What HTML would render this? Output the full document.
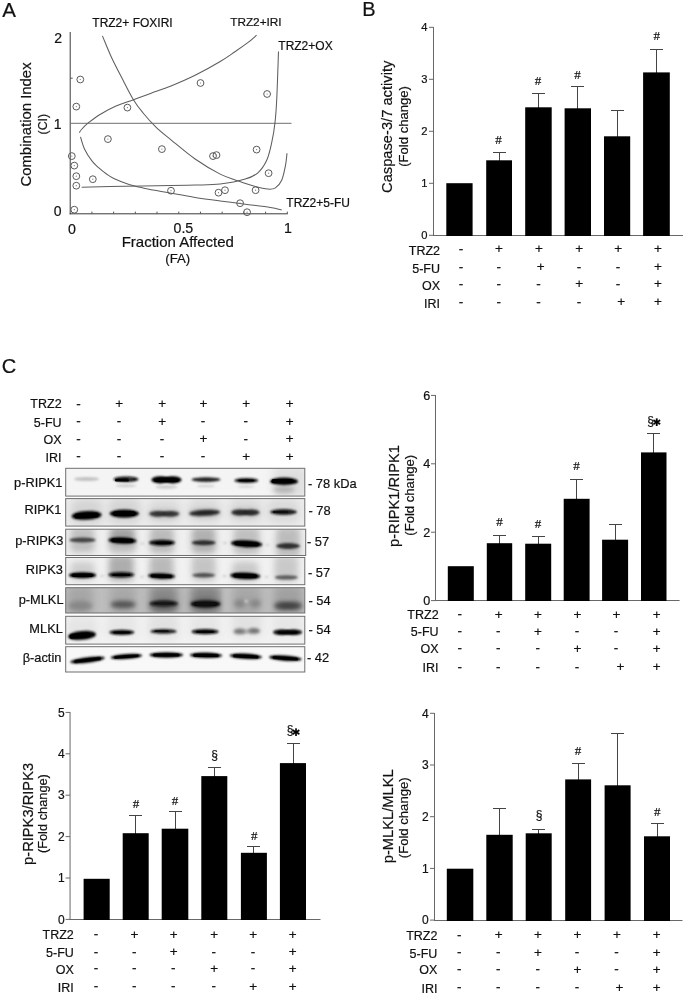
<!DOCTYPE html>
<html lang="en">
<head>
<meta charset="utf-8">
<title>Figure</title>
<style>
html,body{margin:0;padding:0;background:#fff;}
body{width:685px;height:997px;overflow:hidden;}
svg{display:block;}
svg text{font-family:"Liberation Sans",Arial,Helvetica,sans-serif;stroke:#111;stroke-width:.2px;}
svg text.sf{font-family:"Liberation Serif","Times New Roman",serif;}
svg text.dj{font-family:"DejaVu Sans","Liberation Sans",sans-serif;}
</style>
</head>
<body>
<svg width="685" height="997" viewBox="0 0 685 997">
<defs>
<filter id="b1" x="-30%" y="-100%" width="160%" height="300%"><feGaussianBlur stdDeviation="1.3"/></filter>
<filter id="b2" x="-30%" y="-100%" width="160%" height="300%"><feGaussianBlur stdDeviation="2.2"/></filter>
<filter id="b3" x="-30%" y="-100%" width="160%" height="300%"><feGaussianBlur stdDeviation="4"/></filter>
</defs>
<rect width="685" height="997" fill="#fff"/>

<text x="2.20" y="17.00" font-size="20.5" text-anchor="start" fill="#111">A</text>
<text x="362.20" y="16.40" font-size="20" text-anchor="start" fill="#111">B</text>
<text x="1.80" y="372.60" font-size="20" text-anchor="start" fill="#111">C</text>
<line x1="70.20" y1="32.00" x2="70.20" y2="214.30" stroke="#3a3a3a" stroke-width="1"/>
<line x1="69.70" y1="213.80" x2="287.80" y2="213.80" stroke="#3a3a3a" stroke-width="1"/>
<line x1="70.20" y1="123.30" x2="291.50" y2="123.30" stroke="#707070" stroke-width="1"/>
<line x1="91.91" y1="211.60" x2="91.91" y2="213.80" stroke="#555" stroke-width="1"/>
<line x1="113.62" y1="211.60" x2="113.62" y2="213.80" stroke="#555" stroke-width="1"/>
<line x1="135.33" y1="211.60" x2="135.33" y2="213.80" stroke="#555" stroke-width="1"/>
<line x1="157.04" y1="211.60" x2="157.04" y2="213.80" stroke="#555" stroke-width="1"/>
<line x1="178.75" y1="211.60" x2="178.75" y2="213.80" stroke="#555" stroke-width="1"/>
<line x1="200.46" y1="211.60" x2="200.46" y2="213.80" stroke="#555" stroke-width="1"/>
<line x1="222.17" y1="211.60" x2="222.17" y2="213.80" stroke="#555" stroke-width="1"/>
<line x1="243.88" y1="211.60" x2="243.88" y2="213.80" stroke="#555" stroke-width="1"/>
<line x1="265.59" y1="211.60" x2="265.59" y2="213.80" stroke="#555" stroke-width="1"/>
<line x1="287.30" y1="211.60" x2="287.30" y2="213.80" stroke="#555" stroke-width="1"/>
<line x1="70.20" y1="78.20" x2="72.70" y2="78.20" stroke="#555" stroke-width="1"/>
<text x="62.00" y="42.91" font-size="14" text-anchor="end" fill="#111">2</text>
<text x="61.60" y="128.61" font-size="14" text-anchor="end" fill="#111">1</text>
<text x="61.50" y="216.41" font-size="14" text-anchor="end" fill="#111">0</text>
<text x="72.00" y="233.68" font-size="14.2" text-anchor="middle" fill="#111">0</text>
<text x="183.40" y="232.68" font-size="14.2" text-anchor="middle" fill="#111">0.5</text>
<text x="288.00" y="232.88" font-size="14.2" text-anchor="middle" fill="#111">1</text>
<text x="177.80" y="247.17" font-size="15" text-anchor="middle" fill="#111">Fraction Affected</text>
<text x="177.70" y="263.03" font-size="13.2" text-anchor="middle" fill="#111">(FA)</text>
<text x="30.8" y="124.5" font-size="14.9" text-anchor="middle" fill="#111" transform="rotate(-90 30.8 124.5)">Combination Index</text>
<text x="47.2" y="124.2" font-size="12.3" text-anchor="middle" fill="#111" transform="rotate(-90 47.2 124.2)">(CI)</text>
<text x="92.30" y="27.30" font-size="12" text-anchor="start" fill="#111">TRZ2+ FOXIRI</text>
<text x="230.20" y="25.62" font-size="11.8" text-anchor="start" fill="#111">TRZ2+IRI</text>
<text x="278.30" y="49.50" font-size="12" text-anchor="start" fill="#111">TRZ2+OX</text>
<text x="286.30" y="207.30" font-size="12" text-anchor="start" fill="#111">TRZ2+5-FU</text>
<path d="M102.4,35.9 C103.8,39.1 107.5,48.6 110.5,55.2 C113.5,61.8 116.7,68.0 120.5,75.3 C124.3,82.6 129.3,92.9 133.1,99.2 C136.9,105.5 139.3,108.4 143.1,113.0 C146.9,117.6 151.0,122.3 155.7,126.8 C160.3,131.3 164.4,134.4 171.0,139.8 C177.6,145.2 186.9,153.3 195.1,159.0 C203.3,164.7 213.1,170.5 220.2,174.1 C227.3,177.7 231.9,178.7 237.8,180.8 C243.7,182.9 250.4,185.2 255.4,186.6 C260.4,188.0 264.6,188.9 267.9,189.1 C271.2,189.3 273.1,189.4 275.4,187.9 C277.7,186.4 280.0,184.1 281.7,180.3 C283.4,176.5 284.6,169.8 285.5,165.3 C286.4,160.8 286.8,155.2 287.0,153.2" fill="none" stroke="#5e5e5e" stroke-width="1.05"/>
<path d="M79.3,132.6 C79.7,132.1 80.1,131.1 81.5,129.5 C82.9,127.9 84.8,125.8 87.9,123.2 C91.1,120.7 95.8,117.0 100.4,114.2 C105.0,111.4 110.1,108.7 115.5,106.3 C120.9,103.9 127.2,102.1 133.0,99.9 C138.8,97.8 144.3,95.7 150.6,93.4 C156.9,91.1 163.6,89.0 171.0,86.0 C178.4,83.0 186.9,79.4 195.1,75.3 C203.3,71.2 213.5,65.5 220.2,61.5 C226.9,57.5 230.7,54.6 235.3,51.5 C239.9,48.4 244.2,45.4 247.8,42.7 C251.4,40.0 255.1,36.4 256.6,35.1" fill="none" stroke="#5e5e5e" stroke-width="1.05"/>
<path d="M81.7,187.2 C88.9,187.0 110.1,186.6 125.0,186.3 C139.9,186.0 159.3,185.6 171.0,185.4 C182.7,185.2 186.9,185.2 195.1,185.0 C203.3,184.8 211.8,185.1 220.2,184.1 C228.6,183.1 239.0,181.0 245.3,179.1 C251.6,177.2 254.3,175.9 257.9,172.8 C261.5,169.7 264.4,165.3 266.7,160.3 C269.0,155.3 270.3,149.0 271.7,142.7 C273.1,136.4 274.2,129.7 275.0,122.6 C275.8,115.5 276.1,111.8 276.7,100.0 C277.3,88.2 278.2,59.6 278.5,51.5" fill="none" stroke="#5e5e5e" stroke-width="1.05"/>
<path d="M80.5,136.8 C81.2,138.9 82.7,145.2 84.6,149.2 C86.5,153.2 89.5,157.7 91.9,160.9 C94.3,164.1 96.8,166.0 99.2,168.2 C101.6,170.4 104.1,172.3 106.5,174.0 C108.9,175.7 110.1,176.7 113.8,178.4 C117.5,180.1 123.5,182.6 128.4,184.2 C133.3,185.8 138.1,186.8 143.0,187.9 C147.9,189.0 152.9,189.9 157.6,190.8 C162.3,191.7 164.8,192.1 171.0,193.2 C177.2,194.3 186.9,196.1 195.1,197.4 C203.3,198.7 211.8,199.8 220.2,200.9 C228.6,202.0 236.9,203.1 245.3,204.2 C253.7,205.3 264.3,206.5 270.4,207.5 C276.5,208.5 279.8,209.6 281.7,210.0" fill="none" stroke="#5e5e5e" stroke-width="1.05"/>
<circle cx="80.3" cy="79.5" r="3.4" fill="none" stroke="#5a5a5a" stroke-width="1"/>
<circle cx="80.3" cy="79.5" r="0.6" fill="#777"/>
<circle cx="76.3" cy="106.6" r="3.4" fill="none" stroke="#5a5a5a" stroke-width="1"/>
<circle cx="76.3" cy="106.6" r="0.6" fill="#777"/>
<circle cx="127.4" cy="107.6" r="3.4" fill="none" stroke="#5a5a5a" stroke-width="1"/>
<circle cx="127.4" cy="107.6" r="0.6" fill="#777"/>
<circle cx="200.5" cy="83.0" r="3.4" fill="none" stroke="#5a5a5a" stroke-width="1"/>
<circle cx="200.5" cy="83.0" r="0.6" fill="#777"/>
<circle cx="267.1" cy="94.0" r="3.4" fill="none" stroke="#5a5a5a" stroke-width="1"/>
<circle cx="267.1" cy="94.0" r="0.6" fill="#777"/>
<circle cx="107.9" cy="139.1" r="3.4" fill="none" stroke="#5a5a5a" stroke-width="1"/>
<circle cx="107.9" cy="139.1" r="0.6" fill="#777"/>
<circle cx="161.9" cy="149.1" r="3.4" fill="none" stroke="#5a5a5a" stroke-width="1"/>
<circle cx="161.9" cy="149.1" r="0.6" fill="#777"/>
<circle cx="71.8" cy="156.1" r="3.4" fill="none" stroke="#5a5a5a" stroke-width="1"/>
<circle cx="71.8" cy="156.1" r="0.6" fill="#777"/>
<circle cx="74.3" cy="165.6" r="3.4" fill="none" stroke="#5a5a5a" stroke-width="1"/>
<circle cx="74.3" cy="165.6" r="0.6" fill="#777"/>
<circle cx="76.3" cy="176.2" r="3.4" fill="none" stroke="#5a5a5a" stroke-width="1"/>
<circle cx="76.3" cy="176.2" r="0.6" fill="#777"/>
<circle cx="76.3" cy="185.7" r="3.4" fill="none" stroke="#5a5a5a" stroke-width="1"/>
<circle cx="76.3" cy="185.7" r="0.6" fill="#777"/>
<circle cx="92.8" cy="179.2" r="3.4" fill="none" stroke="#5a5a5a" stroke-width="1"/>
<circle cx="92.8" cy="179.2" r="0.6" fill="#777"/>
<circle cx="74.3" cy="209.7" r="3.4" fill="none" stroke="#5a5a5a" stroke-width="1"/>
<circle cx="74.3" cy="209.7" r="0.6" fill="#777"/>
<circle cx="171.0" cy="190.7" r="3.4" fill="none" stroke="#5a5a5a" stroke-width="1"/>
<circle cx="171.0" cy="190.7" r="0.6" fill="#777"/>
<circle cx="213.0" cy="156.1" r="3.4" fill="none" stroke="#5a5a5a" stroke-width="1"/>
<circle cx="213.0" cy="156.1" r="0.6" fill="#777"/>
<circle cx="216.5" cy="155.1" r="3.4" fill="none" stroke="#5a5a5a" stroke-width="1"/>
<circle cx="216.5" cy="155.1" r="0.6" fill="#777"/>
<circle cx="256.6" cy="149.6" r="3.4" fill="none" stroke="#5a5a5a" stroke-width="1"/>
<circle cx="256.6" cy="149.6" r="0.6" fill="#777"/>
<circle cx="268.6" cy="173.2" r="3.4" fill="none" stroke="#5a5a5a" stroke-width="1"/>
<circle cx="268.6" cy="173.2" r="0.6" fill="#777"/>
<circle cx="218.5" cy="192.7" r="3.4" fill="none" stroke="#5a5a5a" stroke-width="1"/>
<circle cx="218.5" cy="192.7" r="0.6" fill="#777"/>
<circle cx="225.0" cy="190.2" r="3.4" fill="none" stroke="#5a5a5a" stroke-width="1"/>
<circle cx="225.0" cy="190.2" r="0.6" fill="#777"/>
<circle cx="255.6" cy="190.2" r="3.4" fill="none" stroke="#5a5a5a" stroke-width="1"/>
<circle cx="255.6" cy="190.2" r="0.6" fill="#777"/>
<circle cx="240.1" cy="203.2" r="3.4" fill="none" stroke="#5a5a5a" stroke-width="1"/>
<circle cx="240.1" cy="203.2" r="0.6" fill="#777"/>
<circle cx="247.1" cy="212.2" r="3.4" fill="none" stroke="#5a5a5a" stroke-width="1"/>
<circle cx="247.1" cy="212.2" r="0.6" fill="#777"/>
<line x1="433.50" y1="27.00" x2="433.50" y2="236.00" stroke="#686868" stroke-width="1"/>
<line x1="433.00" y1="235.50" x2="683.00" y2="235.50" stroke="#686868" stroke-width="1"/>
<line x1="429.00" y1="235.30" x2="433.50" y2="235.30" stroke="#686868" stroke-width="1"/>
<text x="427.60" y="239.31" font-size="11.2" text-anchor="end" fill="#111">0</text>
<line x1="429.00" y1="183.30" x2="433.50" y2="183.30" stroke="#686868" stroke-width="1"/>
<text x="427.60" y="187.31" font-size="11.2" text-anchor="end" fill="#111">1</text>
<line x1="429.00" y1="131.30" x2="433.50" y2="131.30" stroke="#686868" stroke-width="1"/>
<text x="427.60" y="135.31" font-size="11.2" text-anchor="end" fill="#111">2</text>
<line x1="429.00" y1="79.30" x2="433.50" y2="79.30" stroke="#686868" stroke-width="1"/>
<text x="427.60" y="83.31" font-size="11.2" text-anchor="end" fill="#111">3</text>
<line x1="429.00" y1="27.30" x2="433.50" y2="27.30" stroke="#686868" stroke-width="1"/>
<text x="427.60" y="31.31" font-size="11.2" text-anchor="end" fill="#111">4</text>
<rect x="446.30" y="183.20" width="26.30" height="52.80" fill="#000"/>
<line x1="499.50" y1="152.00" x2="499.50" y2="161.30" stroke="#444" stroke-width="1"/>
<line x1="493.00" y1="152.50" x2="506.00" y2="152.50" stroke="#444" stroke-width="1"/>
<rect x="486.20" y="160.30" width="25.80" height="75.70" fill="#000"/>
<text x="498.60" y="144.05" font-size="13" text-anchor="middle" fill="#111" class="sf" stroke="#111" stroke-width="0.25">#</text>
<line x1="538.50" y1="93.00" x2="538.50" y2="108.30" stroke="#444" stroke-width="1"/>
<line x1="532.00" y1="93.50" x2="545.00" y2="93.50" stroke="#444" stroke-width="1"/>
<rect x="525.20" y="107.30" width="26.50" height="128.70" fill="#000"/>
<text x="538.00" y="85.15" font-size="13" text-anchor="middle" fill="#111" class="sf" stroke="#111" stroke-width="0.25">#</text>
<line x1="577.50" y1="86.00" x2="577.50" y2="109.30" stroke="#444" stroke-width="1"/>
<line x1="571.00" y1="86.50" x2="584.00" y2="86.50" stroke="#444" stroke-width="1"/>
<rect x="564.60" y="108.30" width="26.40" height="127.70" fill="#000"/>
<text x="577.40" y="78.65" font-size="13" text-anchor="middle" fill="#111" class="sf" stroke="#111" stroke-width="0.25">#</text>
<line x1="617.50" y1="110.00" x2="617.50" y2="137.30" stroke="#444" stroke-width="1"/>
<line x1="611.00" y1="110.50" x2="624.00" y2="110.50" stroke="#444" stroke-width="1"/>
<rect x="604.00" y="136.30" width="26.20" height="99.70" fill="#000"/>
<line x1="656.50" y1="49.00" x2="656.50" y2="73.40" stroke="#444" stroke-width="1"/>
<line x1="650.00" y1="49.50" x2="663.00" y2="49.50" stroke="#444" stroke-width="1"/>
<rect x="643.10" y="72.40" width="26.70" height="163.60" fill="#000"/>
<text x="656.80" y="40.15" font-size="13" text-anchor="middle" fill="#111" class="sf" stroke="#111" stroke-width="0.25">#</text>
<text x="391.80" y="126.80" font-size="14.7" text-anchor="middle" fill="#111" transform="rotate(-90 391.80 126.80)">Caspase-3/7 activity</text>
<text x="407.80" y="126.40" font-size="13.1" text-anchor="middle" fill="#111" transform="rotate(-90 407.80 126.40)">(Fold change)</text>
<text x="440.00" y="254.97" font-size="12.5" text-anchor="end" fill="#111">TRZ2</text>
<text x="461.00" y="252.80" font-size="13.5" text-anchor="middle" fill="#111">-</text>
<text x="499.00" y="253.30" font-size="13.5" text-anchor="middle" fill="#111">+</text>
<text x="538.90" y="253.30" font-size="13.5" text-anchor="middle" fill="#111">+</text>
<text x="579.30" y="253.30" font-size="13.5" text-anchor="middle" fill="#111">+</text>
<text x="618.30" y="253.30" font-size="13.5" text-anchor="middle" fill="#111">+</text>
<text x="658.00" y="253.30" font-size="13.5" text-anchor="middle" fill="#111">+</text>
<text x="440.00" y="273.08" font-size="12.5" text-anchor="end" fill="#111">5-FU</text>
<text x="461.00" y="270.90" font-size="13.5" text-anchor="middle" fill="#111">-</text>
<text x="498.70" y="270.90" font-size="13.5" text-anchor="middle" fill="#111">-</text>
<text x="540.60" y="271.40" font-size="13.5" text-anchor="middle" fill="#111">+</text>
<text x="579.00" y="270.90" font-size="13.5" text-anchor="middle" fill="#111">-</text>
<text x="618.00" y="270.90" font-size="13.5" text-anchor="middle" fill="#111">-</text>
<text x="658.00" y="271.40" font-size="13.5" text-anchor="middle" fill="#111">+</text>
<text x="440.00" y="289.78" font-size="12.5" text-anchor="end" fill="#111">OX</text>
<text x="461.00" y="287.60" font-size="13.5" text-anchor="middle" fill="#111">-</text>
<text x="498.70" y="287.60" font-size="13.5" text-anchor="middle" fill="#111">-</text>
<text x="538.60" y="287.60" font-size="13.5" text-anchor="middle" fill="#111">-</text>
<text x="579.30" y="288.10" font-size="13.5" text-anchor="middle" fill="#111">+</text>
<text x="618.00" y="287.60" font-size="13.5" text-anchor="middle" fill="#111">-</text>
<text x="658.00" y="288.10" font-size="13.5" text-anchor="middle" fill="#111">+</text>
<text x="440.00" y="307.68" font-size="12.5" text-anchor="end" fill="#111">IRI</text>
<text x="461.00" y="305.70" font-size="13.5" text-anchor="middle" fill="#111">-</text>
<text x="498.70" y="305.70" font-size="13.5" text-anchor="middle" fill="#111">-</text>
<text x="538.60" y="305.70" font-size="13.5" text-anchor="middle" fill="#111">-</text>
<text x="579.00" y="305.70" font-size="13.5" text-anchor="middle" fill="#111">-</text>
<text x="621.30" y="306.20" font-size="13.5" text-anchor="middle" fill="#111">+</text>
<text x="658.00" y="306.20" font-size="13.5" text-anchor="middle" fill="#111">+</text>
<text x="61.60" y="408.48" font-size="12.5" text-anchor="end" fill="#111">TRZ2</text>
<text x="78.60" y="407.70" font-size="13.5" text-anchor="middle" fill="#111">-</text>
<text x="119.30" y="408.20" font-size="13.5" text-anchor="middle" fill="#111">+</text>
<text x="162.30" y="408.20" font-size="13.5" text-anchor="middle" fill="#111">+</text>
<text x="203.40" y="408.20" font-size="13.5" text-anchor="middle" fill="#111">+</text>
<text x="246.10" y="408.20" font-size="13.5" text-anchor="middle" fill="#111">+</text>
<text x="289.80" y="408.20" font-size="13.5" text-anchor="middle" fill="#111">+</text>
<text x="61.60" y="426.78" font-size="12.5" text-anchor="end" fill="#111">5-FU</text>
<text x="78.60" y="425.20" font-size="13.5" text-anchor="middle" fill="#111">-</text>
<text x="119.00" y="425.20" font-size="13.5" text-anchor="middle" fill="#111">-</text>
<text x="162.30" y="425.70" font-size="13.5" text-anchor="middle" fill="#111">+</text>
<text x="203.10" y="425.20" font-size="13.5" text-anchor="middle" fill="#111">-</text>
<text x="245.80" y="425.20" font-size="13.5" text-anchor="middle" fill="#111">-</text>
<text x="289.80" y="425.70" font-size="13.5" text-anchor="middle" fill="#111">+</text>
<text x="61.60" y="443.78" font-size="12.5" text-anchor="end" fill="#111">OX</text>
<text x="78.60" y="442.60" font-size="13.5" text-anchor="middle" fill="#111">-</text>
<text x="119.00" y="442.60" font-size="13.5" text-anchor="middle" fill="#111">-</text>
<text x="162.00" y="442.60" font-size="13.5" text-anchor="middle" fill="#111">-</text>
<text x="203.40" y="443.10" font-size="13.5" text-anchor="middle" fill="#111">+</text>
<text x="245.80" y="442.60" font-size="13.5" text-anchor="middle" fill="#111">-</text>
<text x="289.80" y="443.10" font-size="13.5" text-anchor="middle" fill="#111">+</text>
<text x="61.60" y="461.68" font-size="12.5" text-anchor="end" fill="#111">IRI</text>
<text x="78.60" y="460.20" font-size="13.5" text-anchor="middle" fill="#111">-</text>
<text x="119.00" y="460.20" font-size="13.5" text-anchor="middle" fill="#111">-</text>
<text x="162.00" y="460.20" font-size="13.5" text-anchor="middle" fill="#111">-</text>
<text x="203.10" y="460.20" font-size="13.5" text-anchor="middle" fill="#111">-</text>
<text x="246.10" y="460.70" font-size="13.5" text-anchor="middle" fill="#111">+</text>
<text x="289.80" y="460.70" font-size="13.5" text-anchor="middle" fill="#111">+</text>
<defs>
<clipPath id="cp0"><rect x="65.7" y="468.3" width="239.1" height="27.8"/></clipPath>
<clipPath id="cp1"><rect x="65.7" y="498.6" width="239.1" height="27.5"/></clipPath>
<clipPath id="cp2"><rect x="65.7" y="529.2" width="240.0" height="26.3"/></clipPath>
<clipPath id="cp3"><rect x="65.7" y="557.5" width="239.1" height="27.2"/></clipPath>
<clipPath id="cp4"><rect x="65.7" y="587.7" width="239.1" height="25.3"/></clipPath>
<clipPath id="cp5"><rect x="65.7" y="616.3" width="239.1" height="27.8"/></clipPath>
<clipPath id="cp6"><rect x="65.7" y="646.7" width="239.1" height="25.3"/></clipPath>
<filter id="b25" x="-40%" y="-40%" width="180%" height="180%"><feGaussianBlur stdDeviation="3"/></filter>
<filter id="b15" x="-40%" y="-100%" width="180%" height="300%"><feGaussianBlur stdDeviation="1.7"/></filter>
<filter id="b0" x="-30%" y="-100%" width="160%" height="300%"><feGaussianBlur stdDeviation="0.7"/></filter>
</defs>
<rect x="65.7" y="468.3" width="239.1" height="27.8" fill="#f4f4f4"/>
<g clip-path="url(#cp0)">
<rect x="273.0" y="466.0" width="34.0" height="32.0" rx="6.0" fill="#dcdcdc" opacity="0.9" filter="url(#b3)"/>
<ellipse cx="86.6" cy="479.0" rx="12.5" ry="2.1" fill="#9a9a9a" opacity="0.55" filter="url(#b1)"/>
<ellipse cx="126.0" cy="479.2" rx="12.5" ry="2.8" fill="#111" filter="url(#b1)"/>
<rect x="115.0" y="479.0" width="14.0" height="2.4" rx="1.2" fill="#000" filter="url(#b0)"/>
<ellipse cx="130.5" cy="478.6" rx="2.5" ry="1.0" fill="#777" opacity="0.7" filter="url(#b1)"/>
<ellipse cx="126.0" cy="485.8" rx="10.5" ry="1.5" fill="#aaa" opacity="0.55" filter="url(#b1)"/>
<ellipse cx="160.1" cy="479.8" rx="8.7" ry="3.6" fill="#000" filter="url(#b1)"/>
<ellipse cx="172.9" cy="479.8" rx="8.7" ry="3.6" fill="#000" filter="url(#b1)"/>
<ellipse cx="166.5" cy="479.8" rx="10.1" ry="2.2" fill="#000" filter="url(#b1)"/>
<rect x="154.5" y="478.8" width="24.0" height="3.2" rx="1.6" fill="#000" filter="url(#b0)"/>
<ellipse cx="166.5" cy="487.0" rx="11.0" ry="1.7" fill="#aaa" opacity="0.55" filter="url(#b1)"/>
<ellipse cx="206.0" cy="479.6" rx="14.5" ry="2.4" fill="#222" filter="url(#b1)"/>
<ellipse cx="206.0" cy="486.0" rx="9.0" ry="1.3" fill="#b0b0b0" opacity="0.5" filter="url(#b1)"/>
<ellipse cx="246.3" cy="480.5" rx="12.0" ry="2.6" fill="#151515" filter="url(#b1)"/>
<rect x="238.3" y="479.4" width="16.0" height="2.2" rx="1.1" fill="#000" filter="url(#b0)"/>
<ellipse cx="246.0" cy="486.6" rx="9.0" ry="1.3" fill="#b8b8b8" opacity="0.5" filter="url(#b1)"/>
<ellipse cx="284.0" cy="481.4" rx="14.0" ry="3.8" fill="#000" filter="url(#b1)"/>
<rect x="271.5" y="479.1" width="22.0" height="4.2" rx="2.1" fill="#000" filter="url(#b0)"/>
<ellipse cx="284.0" cy="489.5" rx="11.0" ry="3.5" fill="#909090" opacity="0.55" filter="url(#b2)"/>
</g>
<rect x="65.7" y="468.3" width="239.1" height="27.8" fill="none" stroke="#6e6e6e" stroke-width="1"/>
<rect x="65.7" y="498.6" width="239.1" height="27.5" fill="#eeeeee"/>
<g clip-path="url(#cp1)">
<rect x="70.6" y="499.0" width="32.0" height="26.0" rx="6.0" fill="#c9c9c9" opacity="0.7" filter="url(#b3)"/>
<rect x="108.3" y="498.0" width="32.0" height="26.0" rx="6.0" fill="#c9c9c9" opacity="0.7" filter="url(#b3)"/>
<rect x="148.2" y="500.0" width="32.0" height="24.0" rx="6.0" fill="#d0d0d0" opacity="0.7" filter="url(#b3)"/>
<rect x="188.6" y="499.0" width="32.0" height="24.0" rx="6.0" fill="#d0d0d0" opacity="0.7" filter="url(#b3)"/>
<rect x="229.4" y="499.0" width="32.0" height="24.0" rx="6.0" fill="#d0d0d0" opacity="0.7" filter="url(#b3)"/>
<rect x="267.5" y="499.0" width="32.0" height="24.0" rx="6.0" fill="#d0d0d0" opacity="0.7" filter="url(#b3)"/>
<ellipse cx="86.6" cy="515.4" rx="15.0" ry="4.4" fill="#000" filter="url(#b1)" transform="rotate(-3 86.6 515.4)"/>
<rect x="74.6" y="512.9" width="24.0" height="5.2" rx="2.6" fill="#000" filter="url(#b0)" transform="rotate(-3 86.6 515.5)"/>
<ellipse cx="124.3" cy="513.6" rx="14.7" ry="4.1" fill="#000" filter="url(#b1)"/>
<rect x="112.8" y="511.2" width="23.0" height="4.7" rx="2.4" fill="#000" filter="url(#b0)"/>
<ellipse cx="157.8" cy="513.8" rx="8.7" ry="2.9" fill="#333" opacity="0.9" filter="url(#b1)"/>
<ellipse cx="170.6" cy="513.8" rx="8.7" ry="2.9" fill="#333" opacity="0.9" filter="url(#b1)"/>
<ellipse cx="164.2" cy="513.8" rx="10.1" ry="1.7" fill="#333" opacity="0.54" filter="url(#b1)"/>
<ellipse cx="164.2" cy="514.0" rx="16.0" ry="4.5" fill="#000" opacity="0.14" filter="url(#b2)"/>
<ellipse cx="204.6" cy="512.8" rx="15.5" ry="3.0" fill="#262626" opacity="0.97" filter="url(#b1)" transform="rotate(-3 204.6 512.8)"/>
<ellipse cx="204.6" cy="513.0" rx="16.5" ry="4.5" fill="#000" opacity="0.14" filter="url(#b2)"/>
<ellipse cx="239.5" cy="512.4" rx="8.1" ry="3.0" fill="#2a2a2a" opacity="0.92" filter="url(#b1)"/>
<ellipse cx="251.3" cy="512.4" rx="8.1" ry="3.0" fill="#2a2a2a" opacity="0.92" filter="url(#b1)"/>
<ellipse cx="245.4" cy="512.4" rx="9.4" ry="1.8" fill="#2a2a2a" opacity="0.644" filter="url(#b1)"/>
<ellipse cx="245.4" cy="512.6" rx="15.0" ry="4.5" fill="#000" opacity="0.14" filter="url(#b2)"/>
<ellipse cx="283.5" cy="512.0" rx="13.5" ry="2.9" fill="#1c1c1c" filter="url(#b1)"/>
<rect x="273.0" y="510.9" width="15.0" height="2.2" rx="1.1" fill="#111" filter="url(#b0)"/>
</g>
<rect x="65.7" y="498.6" width="239.1" height="27.5" fill="none" stroke="#6e6e6e" stroke-width="1"/>
<rect x="65.7" y="529.2" width="240.0" height="26.3" fill="#efefef"/>
<g clip-path="url(#cp2)">
<rect x="70.5" y="527.2" width="24.0" height="25.3" rx="5.0" fill="#b4b4b4" opacity="0.8" filter="url(#b25)"/>
<rect x="109.9" y="527.2" width="25.0" height="22.3" rx="5.0" fill="#9a9a9a" opacity="0.9" filter="url(#b25)"/>
<rect x="109.9" y="541.2" width="25.0" height="13.3" rx="5.0" fill="#c0c0c0" opacity="0.6" filter="url(#b25)"/>
<rect x="150.0" y="527.2" width="24.0" height="26.3" rx="5.0" fill="#adadad" opacity="0.8" filter="url(#b25)"/>
<rect x="191.7" y="527.2" width="24.0" height="26.3" rx="5.0" fill="#a6a6a6" opacity="0.85" filter="url(#b25)"/>
<rect x="233.6" y="527.2" width="26.0" height="27.3" rx="5.0" fill="#b4b4b4" opacity="0.8" filter="url(#b25)"/>
<rect x="276.1" y="527.2" width="24.0" height="30.3" rx="5.0" fill="#b0b0b0" opacity="0.8" filter="url(#b25)"/>
<ellipse cx="82.5" cy="540.0" rx="13.0" ry="2.6" fill="#3c3c3c" opacity="0.95" filter="url(#b1)"/>
<ellipse cx="122.4" cy="540.5" rx="14.2" ry="3.3" fill="#000" filter="url(#b1)" transform="rotate(2 122.4 540.5)"/>
<rect x="111.3" y="538.6" width="22.1" height="3.9" rx="1.9" fill="#000" filter="url(#b0)" transform="rotate(2 122.4 540.5)"/>
<ellipse cx="162.0" cy="542.7" rx="13.0" ry="3.0" fill="#111" filter="url(#b1)"/>
<rect x="155.5" y="541.8" width="16.0" height="2.4" rx="1.2" fill="#000" filter="url(#b0)"/>
<ellipse cx="203.7" cy="542.7" rx="12.0" ry="2.5" fill="#2c2c2c" filter="url(#b1)"/>
<ellipse cx="246.6" cy="543.8" rx="15.8" ry="3.6" fill="#000" filter="url(#b1)" transform="rotate(3 246.6 543.8)"/>
<rect x="234.3" y="541.7" width="24.6" height="4.2" rx="2.1" fill="#000" filter="url(#b0)" transform="rotate(3 246.6 543.8)"/>
<ellipse cx="288.1" cy="546.0" rx="12.0" ry="2.9" fill="#2e2e2e" filter="url(#b1)"/>
<ellipse cx="142.5" cy="543.5" rx="2.0" ry="1.2" fill="#ccc" opacity="0.8" filter="url(#b1)"/>
<ellipse cx="225.0" cy="543.0" rx="2.0" ry="1.2" fill="#c8c8c8" opacity="0.8" filter="url(#b1)"/>
<ellipse cx="267.5" cy="545.0" rx="2.0" ry="1.2" fill="#ccc" opacity="0.8" filter="url(#b1)"/>
</g>
<rect x="65.7" y="529.2" width="240.0" height="26.3" fill="none" stroke="#6e6e6e" stroke-width="1"/>
<rect x="65.7" y="557.5" width="239.1" height="27.2" fill="#f1f1f1"/>
<g clip-path="url(#cp3)">
<rect x="70.5" y="561.5" width="24.0" height="19.2" rx="5.0" fill="#c6c6c6" opacity="0.8" filter="url(#b25)"/>
<rect x="108.8" y="555.5" width="25.0" height="25.2" rx="5.0" fill="#a6a6a6" opacity="0.9" filter="url(#b25)"/>
<rect x="149.5" y="555.5" width="24.0" height="25.2" rx="5.0" fill="#b0b0b0" opacity="0.85" filter="url(#b25)"/>
<rect x="191.7" y="555.5" width="24.0" height="25.2" rx="5.0" fill="#bababa" opacity="0.8" filter="url(#b25)"/>
<rect x="232.2" y="561.5" width="26.0" height="20.2" rx="5.0" fill="#c0c0c0" opacity="0.8" filter="url(#b25)"/>
<rect x="274.3" y="555.5" width="24.0" height="26.2" rx="5.0" fill="#c0c0c0" opacity="0.8" filter="url(#b25)"/>
<ellipse cx="82.5" cy="575.2" rx="13.7" ry="3.0" fill="#000" filter="url(#b1)"/>
<rect x="71.8" y="573.5" width="21.3" height="3.5" rx="1.7" fill="#000" filter="url(#b0)"/>
<ellipse cx="121.3" cy="574.7" rx="13.0" ry="2.8" fill="#0c0c0c" filter="url(#b1)"/>
<rect x="112.3" y="573.8" width="18.0" height="2.2" rx="1.1" fill="#000" filter="url(#b0)"/>
<ellipse cx="161.5" cy="576.1" rx="13.7" ry="2.8" fill="#000" filter="url(#b1)" transform="rotate(2 161.5 576.1)"/>
<rect x="150.8" y="574.5" width="21.3" height="3.2" rx="1.6" fill="#000" filter="url(#b0)" transform="rotate(2 161.5 576.1)"/>
<ellipse cx="203.7" cy="575.2" rx="11.5" ry="2.2" fill="#484848" opacity="0.95" filter="url(#b1)"/>
<ellipse cx="245.2" cy="575.8" rx="15.2" ry="3.4" fill="#000" filter="url(#b1)" transform="rotate(2 245.2 575.8)"/>
<rect x="233.3" y="573.8" width="23.8" height="4.0" rx="2.0" fill="#000" filter="url(#b0)" transform="rotate(2 245.2 575.8)"/>
<ellipse cx="286.3" cy="577.4" rx="11.5" ry="2.2" fill="#555" opacity="0.95" filter="url(#b1)"/>
<ellipse cx="102.0" cy="576.0" rx="2.0" ry="1.2" fill="#ccc" opacity="0.8" filter="url(#b1)"/>
<ellipse cx="142.0" cy="577.0" rx="2.0" ry="1.2" fill="#ccc" opacity="0.8" filter="url(#b1)"/>
<ellipse cx="224.5" cy="576.0" rx="2.0" ry="1.2" fill="#c8c8c8" opacity="0.8" filter="url(#b1)"/>
<ellipse cx="266.5" cy="577.0" rx="2.0" ry="1.2" fill="#ccc" opacity="0.8" filter="url(#b1)"/>
</g>
<rect x="65.7" y="557.5" width="239.1" height="27.2" fill="none" stroke="#6e6e6e" stroke-width="1"/>
<rect x="65.7" y="587.7" width="239.1" height="25.3" fill="#bebebe"/>
<g clip-path="url(#cp4)">
<rect x="67.0" y="585.7" width="26.0" height="29.3" rx="5.0" fill="#9e9e9e" opacity="0.75" filter="url(#b3)"/>
<rect x="110.0" y="585.7" width="26.0" height="29.3" rx="5.0" fill="#9e9e9e" opacity="0.7" filter="url(#b3)"/>
<rect x="149.7" y="585.7" width="28.0" height="29.3" rx="5.0" fill="#7e7e7e" opacity="0.85" filter="url(#b3)"/>
<rect x="190.5" y="585.7" width="30.0" height="29.3" rx="5.0" fill="#7c7c7c" opacity="0.9" filter="url(#b3)"/>
<rect x="233.0" y="585.7" width="28.0" height="29.3" rx="5.0" fill="#9c9c9c" opacity="0.7" filter="url(#b3)"/>
<rect x="274.0" y="585.7" width="28.0" height="29.3" rx="5.0" fill="#969696" opacity="0.75" filter="url(#b3)"/>
<rect x="223.0" y="585.7" width="6.0" height="29.3" rx="5.0" fill="#c2c2c2" opacity="0.6" filter="url(#b2)"/>
<ellipse cx="80.2" cy="605.8" rx="12.0" ry="5.0" fill="#808080" opacity="0.8" filter="url(#b2)"/>
<ellipse cx="123.1" cy="604.5" rx="12.5" ry="3.8" fill="#444" opacity="0.85" filter="url(#b2)"/>
<ellipse cx="163.7" cy="603.5" rx="14.0" ry="3.0" fill="#0a0a0a" filter="url(#b1)"/>
<rect x="154.2" y="602.5" width="19.0" height="2.0" rx="1.0" fill="#000" filter="url(#b0)"/>
<ellipse cx="163.7" cy="605.0" rx="15.0" ry="5.5" fill="#333" opacity="0.45" filter="url(#b2)"/>
<ellipse cx="205.5" cy="604.0" rx="14.7" ry="3.4" fill="#000" filter="url(#b1)"/>
<rect x="194.0" y="602.0" width="23.0" height="4.0" rx="2.0" fill="#000" filter="url(#b0)"/>
<ellipse cx="205.5" cy="604.0" rx="15.5" ry="5.0" fill="#222" opacity="0.45" filter="url(#b2)"/>
<ellipse cx="239.7" cy="603.4" rx="5.5" ry="4.0" fill="#777" opacity="0.7" filter="url(#b2)"/>
<ellipse cx="255.3" cy="603.4" rx="5.5" ry="4.0" fill="#777" opacity="0.7" filter="url(#b2)"/>
<ellipse cx="246.2" cy="601.2" rx="1.7" ry="1.7" fill="#d0d0d0" opacity="0.8" filter="url(#b1)"/>
<ellipse cx="282.2" cy="605.8" rx="8.1" ry="3.8" fill="#3c3c3c" opacity="0.85" filter="url(#b2)"/>
<ellipse cx="294.0" cy="605.8" rx="8.1" ry="3.8" fill="#3c3c3c" opacity="0.85" filter="url(#b2)"/>
<ellipse cx="288.1" cy="605.8" rx="9.4" ry="2.2" fill="#3c3c3c" opacity="0.85" filter="url(#b2)"/>
</g>
<rect x="65.7" y="587.7" width="239.1" height="25.3" fill="none" stroke="#6e6e6e" stroke-width="1"/>
<rect x="65.7" y="616.3" width="239.1" height="27.8" fill="#f2f2f2"/>
<g clip-path="url(#cp5)">
<rect x="67.0" y="617.0" width="30.0" height="22.0" rx="6.0" fill="#dcdcdc" opacity="0.6" filter="url(#b3)"/>
<rect x="106.8" y="615.0" width="30.0" height="22.0" rx="6.0" fill="#dedede" opacity="0.6" filter="url(#b3)"/>
<rect x="148.5" y="613.0" width="30.0" height="26.0" rx="6.0" fill="#dadada" opacity="0.7" filter="url(#b3)"/>
<rect x="190.1" y="615.0" width="30.0" height="22.0" rx="6.0" fill="#dedede" opacity="0.6" filter="url(#b3)"/>
<rect x="232.0" y="611.0" width="30.0" height="26.0" rx="6.0" fill="#dadada" opacity="0.7" filter="url(#b3)"/>
<rect x="272.6" y="615.0" width="30.0" height="22.0" rx="6.0" fill="#dedede" opacity="0.6" filter="url(#b3)"/>
<ellipse cx="82.0" cy="635.4" rx="14.0" ry="4.3" fill="#000" filter="url(#b1)" transform="rotate(-5 82.0 635.4)"/>
<rect x="69.5" y="633.3" width="21.0" height="5.0" rx="2.5" fill="#000" filter="url(#b0)" transform="rotate(-5 80.0 635.8)"/>
<ellipse cx="121.8" cy="632.3" rx="12.5" ry="2.6" fill="#0a0a0a" filter="url(#b1)"/>
<rect x="113.3" y="631.4" width="17.0" height="2.0" rx="1.0" fill="#000" filter="url(#b0)"/>
<ellipse cx="163.5" cy="631.4" rx="13.0" ry="2.4" fill="#1a1a1a" filter="url(#b1)"/>
<rect x="154.5" y="630.3" width="14.0" height="1.8" rx="0.9" fill="#111" filter="url(#b0)"/>
<ellipse cx="205.1" cy="631.7" rx="13.5" ry="2.6" fill="#0a0a0a" filter="url(#b1)"/>
<rect x="196.1" y="630.8" width="18.0" height="2.0" rx="1.0" fill="#000" filter="url(#b0)"/>
<ellipse cx="239.7" cy="631.4" rx="6.2" ry="2.8" fill="#666" opacity="0.85" filter="url(#b15)"/>
<ellipse cx="253.9" cy="630.9" rx="6.2" ry="2.8" fill="#606060" opacity="0.85" filter="url(#b15)"/>
<ellipse cx="246.8" cy="631.2" rx="4.5" ry="1.5" fill="#909090" opacity="0.7" filter="url(#b15)"/>
<ellipse cx="281.4" cy="632.3" rx="8.4" ry="2.8" fill="#080808" filter="url(#b1)"/>
<ellipse cx="293.8" cy="632.3" rx="8.4" ry="2.8" fill="#080808" filter="url(#b1)"/>
<ellipse cx="287.6" cy="632.3" rx="9.8" ry="1.7" fill="#080808" filter="url(#b1)"/>
<rect x="277.6" y="631.6" width="20.0" height="2.0" rx="1.0" fill="#000" filter="url(#b0)"/>
</g>
<rect x="65.7" y="616.3" width="239.1" height="27.8" fill="none" stroke="#6e6e6e" stroke-width="1"/>
<rect x="65.7" y="646.7" width="239.1" height="25.3" fill="#f8f8f8"/>
<g clip-path="url(#cp6)">
<ellipse cx="87.5" cy="660.0" rx="17.3" ry="2.7" fill="#000" filter="url(#b1)" transform="rotate(-7 87.5 660.0)"/>
<rect x="74.0" y="658.5" width="27.1" height="3.1" rx="1.5" fill="#000" filter="url(#b0)" transform="rotate(-7 87.5 660.0)"/>
<ellipse cx="126.4" cy="656.6" rx="15.8" ry="2.5" fill="#000" filter="url(#b1)" transform="rotate(-4 126.4 656.6)"/>
<rect x="114.1" y="655.2" width="24.6" height="2.9" rx="1.4" fill="#000" filter="url(#b0)" transform="rotate(-4 126.4 656.6)"/>
<ellipse cx="166.3" cy="655.0" rx="16.8" ry="2.7" fill="#000" filter="url(#b1)"/>
<rect x="153.2" y="653.5" width="26.2" height="3.1" rx="1.5" fill="#000" filter="url(#b0)"/>
<ellipse cx="206.0" cy="655.3" rx="16.3" ry="2.7" fill="#000" filter="url(#b1)" transform="rotate(1 206.0 655.3)"/>
<rect x="193.3" y="653.8" width="25.4" height="3.1" rx="1.5" fill="#000" filter="url(#b0)" transform="rotate(1 206.0 655.3)"/>
<ellipse cx="245.8" cy="656.3" rx="16.3" ry="2.7" fill="#000" filter="url(#b1)" transform="rotate(3 245.8 656.3)"/>
<rect x="233.1" y="654.8" width="25.4" height="3.1" rx="1.5" fill="#000" filter="url(#b0)" transform="rotate(3 245.8 656.3)"/>
<ellipse cx="285.3" cy="658.2" rx="16.3" ry="2.7" fill="#000" filter="url(#b1)" transform="rotate(4 285.3 658.2)"/>
<rect x="272.6" y="656.7" width="25.4" height="3.1" rx="1.5" fill="#000" filter="url(#b0)" transform="rotate(4 285.3 658.2)"/>
</g>
<rect x="65.7" y="646.7" width="239.1" height="25.3" fill="none" stroke="#6e6e6e" stroke-width="1"/>
<text x="62.4" y="487.28" font-size="12.8" text-anchor="end" fill="#111">p-RIPK1</text>
<text x="61.4" y="514.38" font-size="12.8" text-anchor="end" fill="#111">RIPK1</text>
<text x="63.5" y="545.38" font-size="12.8" text-anchor="end" fill="#111">p-RIPK3</text>
<text x="62.8" y="574.28" font-size="12.8" text-anchor="end" fill="#111">RIPK3</text>
<text x="63.5" y="604.08" font-size="12.8" text-anchor="end" fill="#111">p-MLKL</text>
<text x="62.8" y="632.88" font-size="12.8" text-anchor="end" fill="#111">MLKL</text>
<text x="61.4" y="661.98" font-size="12.8" text-anchor="end" fill="#111">β-actin</text>
<text x="308.0" y="487.72" font-size="12.9" text-anchor="start" fill="#111">- 78 kDa</text>
<text x="308.4" y="514.82" font-size="12.9" text-anchor="start" fill="#111">- 78</text>
<text x="307.0" y="546.32" font-size="12.9" text-anchor="start" fill="#111">- 57</text>
<text x="308.0" y="576.52" font-size="12.9" text-anchor="start" fill="#111">- 57</text>
<text x="308.4" y="605.02" font-size="12.9" text-anchor="start" fill="#111">- 54</text>
<text x="308.4" y="633.92" font-size="12.9" text-anchor="start" fill="#111">- 54</text>
<text x="307.0" y="662.42" font-size="12.9" text-anchor="start" fill="#111">- 42</text>
<line x1="435.50" y1="395.00" x2="435.50" y2="601.00" stroke="#686868" stroke-width="1"/>
<line x1="435.00" y1="600.50" x2="679.60" y2="600.50" stroke="#686868" stroke-width="1"/>
<line x1="431.00" y1="600.60" x2="435.50" y2="600.60" stroke="#686868" stroke-width="1"/>
<text x="430.20" y="605.11" font-size="12.6" text-anchor="end" fill="#111">0</text>
<line x1="431.00" y1="532.20" x2="435.50" y2="532.20" stroke="#686868" stroke-width="1"/>
<text x="430.20" y="536.71" font-size="12.6" text-anchor="end" fill="#111">2</text>
<line x1="431.00" y1="463.80" x2="435.50" y2="463.80" stroke="#686868" stroke-width="1"/>
<text x="430.20" y="468.31" font-size="12.6" text-anchor="end" fill="#111">4</text>
<line x1="431.00" y1="395.40" x2="435.50" y2="395.40" stroke="#686868" stroke-width="1"/>
<text x="430.20" y="399.91" font-size="12.6" text-anchor="end" fill="#111">6</text>
<rect x="447.80" y="566.20" width="26.00" height="34.80" fill="#000"/>
<line x1="499.50" y1="535.00" x2="499.50" y2="544.20" stroke="#444" stroke-width="1"/>
<line x1="493.00" y1="535.50" x2="506.00" y2="535.50" stroke="#444" stroke-width="1"/>
<rect x="486.80" y="543.20" width="25.40" height="57.80" fill="#000"/>
<text x="499.60" y="525.55" font-size="13" text-anchor="middle" fill="#111" class="sf" stroke="#111" stroke-width="0.25">#</text>
<line x1="538.50" y1="536.00" x2="538.50" y2="544.70" stroke="#444" stroke-width="1"/>
<line x1="532.00" y1="536.50" x2="545.00" y2="536.50" stroke="#444" stroke-width="1"/>
<rect x="525.20" y="543.70" width="26.00" height="57.30" fill="#000"/>
<text x="538.00" y="527.55" font-size="13" text-anchor="middle" fill="#111" class="sf" stroke="#111" stroke-width="0.25">#</text>
<line x1="576.50" y1="479.00" x2="576.50" y2="499.80" stroke="#444" stroke-width="1"/>
<line x1="570.00" y1="479.50" x2="583.00" y2="479.50" stroke="#444" stroke-width="1"/>
<rect x="563.70" y="498.80" width="25.90" height="102.20" fill="#000"/>
<text x="576.50" y="470.15" font-size="13" text-anchor="middle" fill="#111" class="sf" stroke="#111" stroke-width="0.25">#</text>
<line x1="615.50" y1="524.00" x2="615.50" y2="540.70" stroke="#444" stroke-width="1"/>
<line x1="609.00" y1="524.50" x2="622.00" y2="524.50" stroke="#444" stroke-width="1"/>
<rect x="602.10" y="539.70" width="26.00" height="61.30" fill="#000"/>
<line x1="653.50" y1="433.00" x2="653.50" y2="453.40" stroke="#444" stroke-width="1"/>
<line x1="647.00" y1="433.50" x2="660.00" y2="433.50" stroke="#444" stroke-width="1"/>
<rect x="641.00" y="452.40" width="25.50" height="148.60" fill="#000"/>
<text x="650.60" y="425.10" font-size="12" text-anchor="middle" fill="#111" stroke="none">§</text>
<text x="656.80" y="426.32" font-size="10.4" text-anchor="middle" fill="#000" class="dj" font-weight="bold">✱</text>
<text x="398.70" y="496.00" font-size="14.7" text-anchor="middle" fill="#111" transform="rotate(-90 398.70 496.00)">p-RIPK1/RIPK1</text>
<text x="414.20" y="495.30" font-size="13.1" text-anchor="middle" fill="#111" transform="rotate(-90 414.20 495.30)">(Fold change)</text>
<text x="438.60" y="619.08" font-size="12.5" text-anchor="end" fill="#111">TRZ2</text>
<text x="459.80" y="618.00" font-size="13.5" text-anchor="middle" fill="#111">-</text>
<text x="498.60" y="618.50" font-size="13.5" text-anchor="middle" fill="#111">+</text>
<text x="538.00" y="618.50" font-size="13.5" text-anchor="middle" fill="#111">+</text>
<text x="577.40" y="618.50" font-size="13.5" text-anchor="middle" fill="#111">+</text>
<text x="616.40" y="618.50" font-size="13.5" text-anchor="middle" fill="#111">+</text>
<text x="656.80" y="618.50" font-size="13.5" text-anchor="middle" fill="#111">+</text>
<text x="438.60" y="636.48" font-size="12.5" text-anchor="end" fill="#111">5-FU</text>
<text x="459.80" y="635.00" font-size="13.5" text-anchor="middle" fill="#111">-</text>
<text x="498.30" y="635.00" font-size="13.5" text-anchor="middle" fill="#111">-</text>
<text x="538.00" y="635.50" font-size="13.5" text-anchor="middle" fill="#111">+</text>
<text x="577.10" y="635.00" font-size="13.5" text-anchor="middle" fill="#111">-</text>
<text x="616.10" y="635.00" font-size="13.5" text-anchor="middle" fill="#111">-</text>
<text x="656.80" y="635.50" font-size="13.5" text-anchor="middle" fill="#111">+</text>
<text x="438.60" y="653.48" font-size="12.5" text-anchor="end" fill="#111">OX</text>
<text x="459.80" y="652.20" font-size="13.5" text-anchor="middle" fill="#111">-</text>
<text x="498.30" y="652.20" font-size="13.5" text-anchor="middle" fill="#111">-</text>
<text x="537.70" y="652.20" font-size="13.5" text-anchor="middle" fill="#111">-</text>
<text x="577.40" y="652.70" font-size="13.5" text-anchor="middle" fill="#111">+</text>
<text x="616.10" y="652.20" font-size="13.5" text-anchor="middle" fill="#111">-</text>
<text x="656.80" y="652.70" font-size="13.5" text-anchor="middle" fill="#111">+</text>
<text x="438.60" y="672.48" font-size="12.5" text-anchor="end" fill="#111">IRI</text>
<text x="459.80" y="670.60" font-size="13.5" text-anchor="middle" fill="#111">-</text>
<text x="498.30" y="670.60" font-size="13.5" text-anchor="middle" fill="#111">-</text>
<text x="537.70" y="670.60" font-size="13.5" text-anchor="middle" fill="#111">-</text>
<text x="577.10" y="670.60" font-size="13.5" text-anchor="middle" fill="#111">-</text>
<text x="620.40" y="671.10" font-size="13.5" text-anchor="middle" fill="#111">+</text>
<text x="656.80" y="671.10" font-size="13.5" text-anchor="middle" fill="#111">+</text>
<line x1="70.05" y1="712.00" x2="70.05" y2="920.00" stroke="#686868" stroke-width="1"/>
<line x1="69.55" y1="919.50" x2="320.50" y2="919.50" stroke="#686868" stroke-width="1"/>
<line x1="65.55" y1="919.40" x2="70.05" y2="919.40" stroke="#686868" stroke-width="1"/>
<text x="64.70" y="923.50" font-size="12" text-anchor="end" fill="#111">0</text>
<line x1="65.55" y1="878.00" x2="70.05" y2="878.00" stroke="#686868" stroke-width="1"/>
<text x="64.70" y="882.10" font-size="12" text-anchor="end" fill="#111">1</text>
<line x1="65.55" y1="836.60" x2="70.05" y2="836.60" stroke="#686868" stroke-width="1"/>
<text x="64.70" y="840.70" font-size="12" text-anchor="end" fill="#111">2</text>
<line x1="65.55" y1="795.20" x2="70.05" y2="795.20" stroke="#686868" stroke-width="1"/>
<text x="64.70" y="799.30" font-size="12" text-anchor="end" fill="#111">3</text>
<line x1="65.55" y1="753.80" x2="70.05" y2="753.80" stroke="#686868" stroke-width="1"/>
<text x="64.70" y="757.90" font-size="12" text-anchor="end" fill="#111">4</text>
<line x1="65.55" y1="712.40" x2="70.05" y2="712.40" stroke="#686868" stroke-width="1"/>
<text x="64.70" y="716.50" font-size="12" text-anchor="end" fill="#111">5</text>
<rect x="83.60" y="878.80" width="26.10" height="41.20" fill="#000"/>
<line x1="135.50" y1="815.00" x2="135.50" y2="834.20" stroke="#444" stroke-width="1"/>
<line x1="129.00" y1="815.50" x2="142.00" y2="815.50" stroke="#444" stroke-width="1"/>
<rect x="122.70" y="833.20" width="26.00" height="86.80" fill="#000"/>
<text x="136.00" y="808.45" font-size="13" text-anchor="middle" fill="#111" class="sf" stroke="#111" stroke-width="0.25">#</text>
<line x1="175.50" y1="811.00" x2="175.50" y2="829.70" stroke="#444" stroke-width="1"/>
<line x1="169.00" y1="811.50" x2="182.00" y2="811.50" stroke="#444" stroke-width="1"/>
<rect x="161.70" y="828.70" width="26.60" height="91.30" fill="#000"/>
<text x="175.10" y="804.95" font-size="13" text-anchor="middle" fill="#111" class="sf" stroke="#111" stroke-width="0.25">#</text>
<line x1="214.50" y1="767.00" x2="214.50" y2="777.10" stroke="#444" stroke-width="1"/>
<line x1="208.00" y1="767.50" x2="221.00" y2="767.50" stroke="#444" stroke-width="1"/>
<rect x="201.30" y="776.10" width="26.00" height="143.90" fill="#000"/>
<text x="214.60" y="759.40" font-size="12" text-anchor="middle" fill="#111" stroke="none">§</text>
<line x1="253.50" y1="846.00" x2="253.50" y2="853.80" stroke="#444" stroke-width="1"/>
<line x1="247.00" y1="846.50" x2="260.00" y2="846.50" stroke="#444" stroke-width="1"/>
<rect x="240.90" y="852.80" width="26.00" height="67.20" fill="#000"/>
<text x="254.20" y="839.95" font-size="13" text-anchor="middle" fill="#111" class="sf" stroke="#111" stroke-width="0.25">#</text>
<line x1="293.50" y1="743.00" x2="293.50" y2="764.10" stroke="#444" stroke-width="1"/>
<line x1="287.00" y1="743.50" x2="300.00" y2="743.50" stroke="#444" stroke-width="1"/>
<rect x="279.90" y="763.10" width="26.10" height="156.90" fill="#000"/>
<text x="290.00" y="734.30" font-size="12" text-anchor="middle" fill="#111" stroke="none">§</text>
<text x="296.20" y="735.52" font-size="10.4" text-anchor="middle" fill="#000" class="dj" font-weight="bold">✱</text>
<text x="33.30" y="813.90" font-size="14.7" text-anchor="middle" fill="#111" transform="rotate(-90 33.30 813.90)">p-RIPK3/RIPK3</text>
<text x="47.50" y="813.60" font-size="12.8" text-anchor="middle" fill="#111" transform="rotate(-90 47.50 813.60)">(Fold change)</text>
<text x="73.80" y="939.38" font-size="12.5" text-anchor="end" fill="#111">TRZ2</text>
<text x="96.10" y="938.00" font-size="13.5" text-anchor="middle" fill="#111">-</text>
<text x="134.50" y="938.50" font-size="13.5" text-anchor="middle" fill="#111">+</text>
<text x="173.60" y="938.50" font-size="13.5" text-anchor="middle" fill="#111">+</text>
<text x="214.10" y="938.50" font-size="13.5" text-anchor="middle" fill="#111">+</text>
<text x="253.20" y="938.50" font-size="13.5" text-anchor="middle" fill="#111">+</text>
<text x="292.70" y="938.50" font-size="13.5" text-anchor="middle" fill="#111">+</text>
<text x="73.80" y="957.48" font-size="12.5" text-anchor="end" fill="#111">5-FU</text>
<text x="96.10" y="955.90" font-size="13.5" text-anchor="middle" fill="#111">-</text>
<text x="134.20" y="955.90" font-size="13.5" text-anchor="middle" fill="#111">-</text>
<text x="173.60" y="956.40" font-size="13.5" text-anchor="middle" fill="#111">+</text>
<text x="213.80" y="955.90" font-size="13.5" text-anchor="middle" fill="#111">-</text>
<text x="252.90" y="955.90" font-size="13.5" text-anchor="middle" fill="#111">-</text>
<text x="292.70" y="956.40" font-size="13.5" text-anchor="middle" fill="#111">+</text>
<text x="73.80" y="973.68" font-size="12.5" text-anchor="end" fill="#111">OX</text>
<text x="96.10" y="972.40" font-size="13.5" text-anchor="middle" fill="#111">-</text>
<text x="134.20" y="972.40" font-size="13.5" text-anchor="middle" fill="#111">-</text>
<text x="173.30" y="972.40" font-size="13.5" text-anchor="middle" fill="#111">-</text>
<text x="214.10" y="972.90" font-size="13.5" text-anchor="middle" fill="#111">+</text>
<text x="252.90" y="972.40" font-size="13.5" text-anchor="middle" fill="#111">-</text>
<text x="292.70" y="972.90" font-size="13.5" text-anchor="middle" fill="#111">+</text>
<text x="73.80" y="991.98" font-size="12.5" text-anchor="end" fill="#111">IRI</text>
<text x="96.10" y="990.10" font-size="13.5" text-anchor="middle" fill="#111">-</text>
<text x="134.20" y="990.10" font-size="13.5" text-anchor="middle" fill="#111">-</text>
<text x="173.30" y="990.10" font-size="13.5" text-anchor="middle" fill="#111">-</text>
<text x="213.80" y="990.10" font-size="13.5" text-anchor="middle" fill="#111">-</text>
<text x="253.20" y="990.60" font-size="13.5" text-anchor="middle" fill="#111">+</text>
<text x="292.70" y="990.60" font-size="13.5" text-anchor="middle" fill="#111">+</text>
<line x1="434.50" y1="713.00" x2="434.50" y2="921.00" stroke="#686868" stroke-width="1"/>
<line x1="434.00" y1="920.50" x2="682.50" y2="920.50" stroke="#686868" stroke-width="1"/>
<line x1="430.00" y1="920.10" x2="434.50" y2="920.10" stroke="#686868" stroke-width="1"/>
<text x="428.70" y="924.40" font-size="12" text-anchor="end" fill="#111">0</text>
<line x1="430.00" y1="868.40" x2="434.50" y2="868.40" stroke="#686868" stroke-width="1"/>
<text x="428.70" y="872.70" font-size="12" text-anchor="end" fill="#111">1</text>
<line x1="430.00" y1="816.70" x2="434.50" y2="816.70" stroke="#686868" stroke-width="1"/>
<text x="428.70" y="821.00" font-size="12" text-anchor="end" fill="#111">2</text>
<line x1="430.00" y1="765.00" x2="434.50" y2="765.00" stroke="#686868" stroke-width="1"/>
<text x="428.70" y="769.30" font-size="12" text-anchor="end" fill="#111">3</text>
<line x1="430.00" y1="713.30" x2="434.50" y2="713.30" stroke="#686868" stroke-width="1"/>
<text x="428.70" y="717.60" font-size="12" text-anchor="end" fill="#111">4</text>
<rect x="446.80" y="868.70" width="26.50" height="52.30" fill="#000"/>
<line x1="499.50" y1="808.00" x2="499.50" y2="835.80" stroke="#444" stroke-width="1"/>
<line x1="493.00" y1="808.50" x2="506.00" y2="808.50" stroke="#444" stroke-width="1"/>
<rect x="486.30" y="834.80" width="26.40" height="86.20" fill="#000"/>
<line x1="538.50" y1="829.00" x2="538.50" y2="834.30" stroke="#444" stroke-width="1"/>
<line x1="532.00" y1="829.50" x2="545.00" y2="829.50" stroke="#444" stroke-width="1"/>
<rect x="525.70" y="833.30" width="26.00" height="87.70" fill="#000"/>
<text x="539.00" y="819.10" font-size="12" text-anchor="middle" fill="#111" stroke="none">§</text>
<line x1="578.50" y1="763.00" x2="578.50" y2="780.40" stroke="#444" stroke-width="1"/>
<line x1="572.00" y1="763.50" x2="585.00" y2="763.50" stroke="#444" stroke-width="1"/>
<rect x="565.20" y="779.40" width="25.90" height="141.60" fill="#000"/>
<text x="577.90" y="755.15" font-size="13" text-anchor="middle" fill="#111" class="sf" stroke="#111" stroke-width="0.25">#</text>
<line x1="617.50" y1="733.00" x2="617.50" y2="786.30" stroke="#444" stroke-width="1"/>
<line x1="611.00" y1="733.50" x2="624.00" y2="733.50" stroke="#444" stroke-width="1"/>
<rect x="604.60" y="785.30" width="26.00" height="135.70" fill="#000"/>
<line x1="657.50" y1="823.00" x2="657.50" y2="837.30" stroke="#444" stroke-width="1"/>
<line x1="651.00" y1="823.50" x2="664.00" y2="823.50" stroke="#444" stroke-width="1"/>
<rect x="644.00" y="836.30" width="26.00" height="84.70" fill="#000"/>
<text x="657.30" y="815.55" font-size="13" text-anchor="middle" fill="#111" class="sf" stroke="#111" stroke-width="0.25">#</text>
<text x="392.90" y="816.30" font-size="14.7" text-anchor="middle" fill="#111" transform="rotate(-90 392.90 816.30)">p-MLKL/MLKL</text>
<text x="407.70" y="817.80" font-size="13.1" text-anchor="middle" fill="#111" transform="rotate(-90 407.70 817.80)">(Fold change)</text>
<text x="437.40" y="940.08" font-size="12.5" text-anchor="end" fill="#111">TRZ2</text>
<text x="459.30" y="938.60" font-size="13.5" text-anchor="middle" fill="#111">-</text>
<text x="498.60" y="939.10" font-size="13.5" text-anchor="middle" fill="#111">+</text>
<text x="538.00" y="939.10" font-size="13.5" text-anchor="middle" fill="#111">+</text>
<text x="577.40" y="939.10" font-size="13.5" text-anchor="middle" fill="#111">+</text>
<text x="616.90" y="939.10" font-size="13.5" text-anchor="middle" fill="#111">+</text>
<text x="656.80" y="939.10" font-size="13.5" text-anchor="middle" fill="#111">+</text>
<text x="437.40" y="957.58" font-size="12.5" text-anchor="end" fill="#111">5-FU</text>
<text x="459.30" y="956.10" font-size="13.5" text-anchor="middle" fill="#111">-</text>
<text x="498.30" y="956.10" font-size="13.5" text-anchor="middle" fill="#111">-</text>
<text x="538.00" y="956.60" font-size="13.5" text-anchor="middle" fill="#111">+</text>
<text x="577.10" y="956.10" font-size="13.5" text-anchor="middle" fill="#111">-</text>
<text x="616.60" y="956.10" font-size="13.5" text-anchor="middle" fill="#111">-</text>
<text x="656.80" y="956.60" font-size="13.5" text-anchor="middle" fill="#111">+</text>
<text x="437.40" y="974.48" font-size="12.5" text-anchor="end" fill="#111">OX</text>
<text x="459.30" y="973.10" font-size="13.5" text-anchor="middle" fill="#111">-</text>
<text x="498.30" y="973.10" font-size="13.5" text-anchor="middle" fill="#111">-</text>
<text x="537.70" y="973.10" font-size="13.5" text-anchor="middle" fill="#111">-</text>
<text x="577.40" y="973.60" font-size="13.5" text-anchor="middle" fill="#111">+</text>
<text x="616.60" y="973.10" font-size="13.5" text-anchor="middle" fill="#111">-</text>
<text x="656.80" y="973.60" font-size="13.5" text-anchor="middle" fill="#111">+</text>
<text x="437.40" y="992.98" font-size="12.5" text-anchor="end" fill="#111">IRI</text>
<text x="459.30" y="991.10" font-size="13.5" text-anchor="middle" fill="#111">-</text>
<text x="498.30" y="991.10" font-size="13.5" text-anchor="middle" fill="#111">-</text>
<text x="537.70" y="991.10" font-size="13.5" text-anchor="middle" fill="#111">-</text>
<text x="577.10" y="991.10" font-size="13.5" text-anchor="middle" fill="#111">-</text>
<text x="619.50" y="991.60" font-size="13.5" text-anchor="middle" fill="#111">+</text>
<text x="656.80" y="991.60" font-size="13.5" text-anchor="middle" fill="#111">+</text>
</svg>
</body>
</html>
